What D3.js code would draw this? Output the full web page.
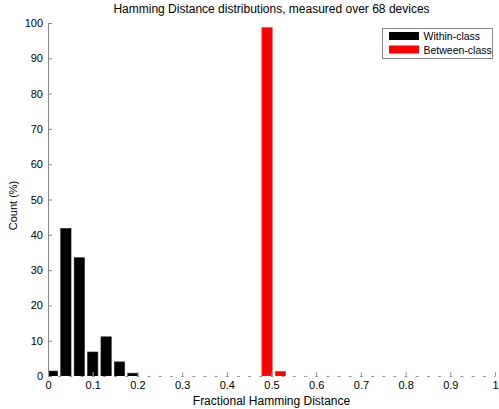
<!DOCTYPE html>
<html>
<head>
<meta charset="utf-8">
<script src="https://cdn.jsdelivr.net/npm/d3@7"></script>
<style>
  body { margin: 0; background: #fff; }
  svg text { font-family: "Liberation Sans", Arial, sans-serif; }
</style>
</head>
<body>
<div id="chart"></div>
<script>
// bin centres (fractional HD) and counts (%)
const withinBins = [0.01, 0.04, 0.07, 0.10, 0.13, 0.16, 0.19];
const withinCounts = [1.4, 41.8, 33.5, 6.8, 11.1, 4.0, 0.8];
const betweenBins = [0.49, 0.52];
const betweenCounts = [98.7, 1.3];

const xTicks = [0, 0.1, 0.2, 0.3, 0.4, 0.5, 0.6, 0.7, 0.8, 0.9, 1];
const xTickLabels = ["0", "0.1", "0.2", "0.3", "0.4", "0.5", "0.6", "0.7", "0.8", "0.9", "1"];
const yTicks = [0, 10, 20, 30, 40, 50, 60, 70, 80, 90, 100];

const series = [
  { name: "Within-class", color: "#000000", bins: withinBins, counts: withinCounts },
  { name: "Between-class", color: "#ff0000", bins: betweenBins, counts: betweenCounts },
];

const W = 499, H = 409;
const plot = { left: 48, right: 495, top: 23, bottom: 376 };
const binWidth = 0.0231;

const svg = d3.select("#chart").append("svg")
  .attr("width", W)
  .attr("height", H);

const x = d3.scaleLinear().domain([0, 1]).range([plot.left, plot.right]);
const y = d3.scaleLinear().domain([0, 100]).range([plot.bottom, plot.top]);

svg.append("clipPath").attr("id", "plotclip")
  .append("rect")
  .attr("x", plot.left).attr("y", plot.top)
  .attr("width", plot.right - plot.left).attr("height", plot.bottom - plot.top);

// bars
const barsG = svg.append("g").attr("clip-path", "url(#plotclip)");
series.forEach(s => {
  barsG.selectAll(null)
    .data(s.bins.map((b, i) => [b, s.counts[i]]))
    .enter().append("rect")
    .attr("x", d => x(d[0] - binWidth / 2))
    .attr("width", d => x(d[0] + binWidth / 2) - x(d[0] - binWidth / 2))
    .attr("y", d => y(d[1]))
    .attr("height", d => y(0) - y(d[1]))
    .attr("fill", s.color)
    .attr("stroke", s.color === "#000000" ? "#222" : "#ff3030")
    .attr("stroke-width", 0.6);
});

// y axis
const yAxis = svg.append("g")
  .attr("transform", `translate(${plot.left},0)`)
  .call(d3.axisLeft(y).tickValues(yTicks).tickSizeInner(-4).tickSizeOuter(0).tickPadding(5));
yAxis.select(".domain").attr("stroke", "#888");
yAxis.selectAll(".tick line").attr("stroke", "#888");
yAxis.selectAll("text").attr("font-size", 11).attr("fill", "#000")
  .attr("font-family", "Liberation Sans, Arial, sans-serif");

// x axis
const xAxis = svg.append("g")
  .attr("transform", `translate(0,${plot.bottom})`)
  .call(d3.axisBottom(x).tickValues(xTicks).tickFormat((d, i) => xTickLabels[i])
    .tickSizeInner(-4).tickSizeOuter(0).tickPadding(5));
const step = x(0.025) - x(0);
xAxis.select(".domain")
  .attr("stroke", "#999")
  .attr("stroke-dasharray", `3,${step - 3}`)
  .attr("stroke-dashoffset", 1.5);
xAxis.selectAll(".tick line").attr("stroke", "#999");
xAxis.selectAll("text").attr("font-size", 11).attr("fill", "#000")
  .attr("font-family", "Liberation Sans, Arial, sans-serif");

// title and labels
svg.append("text")
  .attr("x", (plot.left + plot.right) / 2).attr("y", 13)
  .attr("text-anchor", "middle")
  .attr("font-size", 12)
  .text("Hamming Distance distributions, measured over 68 devices");

svg.append("text")
  .attr("x", (plot.left + plot.right) / 2).attr("y", 405)
  .attr("text-anchor", "middle")
  .attr("font-size", 12)
  .text("Fractional Hamming Distance");

svg.append("text")
  .attr("transform", `translate(17,${(plot.top + plot.bottom) / 2 + 6}) rotate(-90)`)
  .attr("text-anchor", "middle")
  .attr("font-size", 11)
  .text("Count (%)");

// legend
const legend = svg.append("g").attr("transform", "translate(382.5,28.5)");
legend.append("rect")
  .attr("width", 110).attr("height", 30)
  .attr("fill", "#fff").attr("stroke", "#888");
const item = legend.selectAll(".legend")
  .data(series)
  .enter().append("g")
  .attr("class", "legend")
  .attr("transform", (d, i) => `translate(0,${i * 13.5})`);
item.append("rect")
  .attr("x", 6.5).attr("y", 3.5)
  .attr("width", 30).attr("height", 8)
  .attr("fill", d => d.color);
item.append("text")
  .attr("x", 41).attr("y", 11.5)
  .attr("font-size", 10.5)
  .text(d => d.name);
</script>
</body>
</html>
